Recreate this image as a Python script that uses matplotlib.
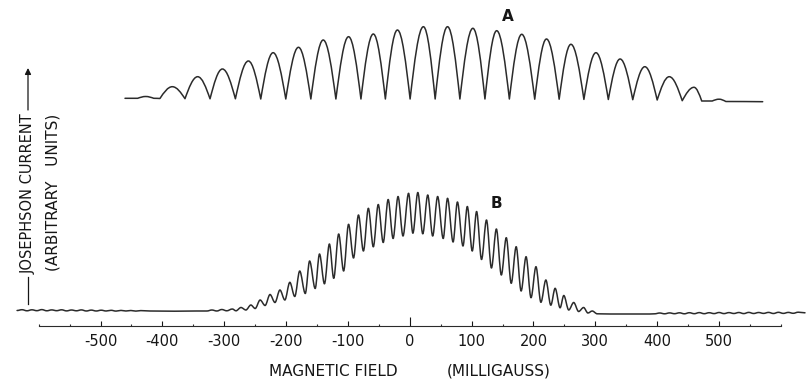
import matplotlib.pyplot as plt
from matplotlib.path import Path
from matplotlib.patches import PathPatch
from matplotlib.lines import Line2D

# Trace A: turning points (field in milligauss, current in arbitrary units)
a_field = [-460.5, -440, -427, -414, -404, -384, -363.5, -343, -323, -303, -282, -261,
           -241, -221, -200.5, -180, -160, -140, -119.5, -99, -79, -59, -39.5, -20,
           0.5, 22, 41, 61, 81, 102, 121.5, 140.5, 161, 181, 202, 221, 241.5, 260.5,
           281.5, 301, 321, 340, 360.5, 380, 400, 419.5, 440.5, 459.5, 472, 489, 500,
           511, 570.6]
a_current = [227.7, 227.7, 229.5, 227.7, 227.5, 239.3, 227.3, 249.3, 227.2, 257.0, 227.2,
             265.0, 227.0, 273.3, 227.0, 278.7, 227.0, 286.0, 227.0, 289.3, 227.0, 292.0,
             227.0, 296.0, 227.0, 299.3, 227.0, 299.3, 227.0, 297.7, 227.0, 295.3, 227.0,
             291.7, 226.8, 287.0, 226.8, 281.7, 226.6, 273.3, 226.5, 267.0, 226.3, 259.3,
             226.0, 249.3, 225.3, 238.7, 225.0, 225.0, 226.8, 224.5, 224.3]

# Trace B: turning points
b_field = [-635, -627, -619, -611, -603, -595, -587, -579, -571, -563, -555, -547, -539,
           -531, -523, -515, -507, -499, -491, -483, -475, -467, -459, -451, -443, -435,
           -420, -380, -345, -328, -320, -312, -304, -296, -287, -281, -273, -265, -257,
           -250, -242, -234, -226, -218, -210, -202, -194, -186, -178, -169, -162, -153,
           -146, -138, -130, -123, -115, -107, -99, -91, -83, -75, -67, -59, -51, -43,
           -35, -27, -19, -11, -2, 5, 13, 21, 29, 37, 45, 54, 61, 70, 77, 86, 93, 101,
           108, 116, 124, 132, 140, 148, 156, 164, 172, 180, 188, 196, 204, 212, 220,
           228, 235, 243, 249, 257, 265, 273, 281, 288, 295, 303, 324, 388, 396, 404,
           412, 420, 428, 436, 444, 452, 460, 468, 476, 484, 492, 500, 508, 516, 524,
           532, 540, 548, 556, 564, 572, 580, 588, 596, 604, 612, 620, 628, 639]
b_current = [15.5, 16.3, 15.2, 16.2, 15.3, 16.4, 15.2, 16.1, 15.3, 16.2, 15.1, 16.0, 15.2,
             16.1, 15.0, 15.9, 15.0, 15.8, 15.0, 15.7, 14.9, 15.6, 15.0, 15.5, 14.9, 15.4,
             15.0, 14.8, 15.0, 15.0, 16.0, 15.0, 16.5, 15.2, 17.0, 15.2, 18.5, 16.0, 21.0,
             17.5, 26.0, 20.5, 31.5, 23.5, 36.0, 26.0, 43.7, 29.5, 55.0, 32.5, 65.0, 37.5,
             72.0, 42.2, 82.0, 47.7, 92.0, 55.0, 101.7, 68.0, 111.0, 75.0, 117.7, 79.2,
             121.5, 83.5, 126.5, 87.5, 129.5, 90.0, 132.7, 92.8, 133.5, 92.2, 131.0, 90.0,
             129.5, 87.5, 127.7, 84.0, 124.0, 80.0, 119.5, 75.0, 114.5, 66.5, 106.0, 58.0,
             97.0, 51.0, 88.3, 42.7, 79.3, 35.0, 69.3, 28.3, 59.3, 23.7, 46.0, 20.8, 37.7,
             18.2, 30.5, 16.0, 23.5, 14.5, 18.5, 13.0, 15.0, 12.2, 12.0, 12.0, 12.2, 13.0,
             12.2, 13.1, 12.3, 13.2, 12.2, 13.3, 12.3, 13.4, 12.3, 13.3, 12.4, 13.5, 12.4,
             13.4, 12.5, 13.5, 12.4, 13.6, 12.5, 13.5, 12.6, 13.6, 12.5, 13.7, 12.6, 13.6,
             12.7, 13.8, 13.2]

tick_values = [-500, -400, -300, -200, -100, 0, 100, 200, 300, 400, 500]
tick_labels = ['-500', '-400', '-300', '-200', '-100', '0', '100', '200', '300', '400', '500']
minor_values = [-600, -550, -450, -350, -250, -150, -50, 50, 150, 250, 350, 450, 550, 600]

ink = '#161616'
pen = '#2b2b2b'


def trace_path(xs, ys, sharp_troughs):
    # smooth curve through the turning points, horizontal tangent at each peak
    verts = [(xs[0], ys[0])]
    codes = [Path.MOVETO]
    for x0, y0, x1, y1 in zip(xs[:-1], ys[:-1], xs[1:], ys[1:]):
        dx, dy = x1 - x0, y1 - y0
        if sharp_troughs and dy > 0:
            c1, c2 = (x0 + 0.326 * dx, y0 + 0.512 * dy), (x0 + 0.638 * dx, y1)
        elif sharp_troughs and dy < 0:
            c1, c2 = (x0 + 0.362 * dx, y0), (x1 - 0.326 * dx, y1 - 0.512 * dy)
        else:
            c1, c2 = (x0 + dx / 3, y0), (x1 - dx / 3, y1)
        verts += [c1, c2, (x1, y1)]
        codes += [Path.CURVE4] * 3
    return Path(verts, codes)


fig = plt.figure(figsize=(8.11, 3.81), dpi=100)
ax = fig.add_axes([0, 0, 1, 1])
ax.set_xlim(-662.6, 648.7)
ax.set_ylim(-55, 326)

ax.add_patch(PathPatch(trace_path(a_field, a_current, True), fill=False,
                       edgecolor=pen, lw=1.1, capstyle='round', joinstyle='round'))
ax.add_patch(PathPatch(trace_path(b_field, b_current, False), fill=False,
                       edgecolor=pen, lw=1.1, capstyle='round', joinstyle='round'))

ax.text(159, 305.3, 'A', ha='center', va='baseline', fontsize=11, fontweight='bold', color=ink)
ax.text(140.5, 117.7, 'B', ha='center', va='baseline', fontsize=11, fontweight='bold', color=ink)

# field axis drawn as the bottom spine at zero current
for side in ['top', 'left', 'right']:
    ax.spines[side].set_visible(False)
ax.spines['bottom'].set_position(('data', 0))
ax.spines['bottom'].set_bounds(-600, 600)
ax.spines['bottom'].set_linewidth(0.8)
ax.spines['bottom'].set_color(pen)
ax.set_xticks(tick_values, tick_labels)
ax.set_xticks(minor_values, minor=True)
ax.set_yticks([])
ax.tick_params(axis='x', which='major', direction='in', length=3.5, width=0.8,
               pad=5.5, labelsize=10.5, colors=ink)
ax.tick_params(axis='x', which='minor', direction='in', length=1.8, width=0.8, colors=pen)
for tick in ax.xaxis.get_major_ticks():
    if tick.get_loc() == 0:
        tick.tick1line.set_markersize(6.5)

W, H = 811, 381
fig.text(269 / W, 1 - 376 / H, 'MAGNETIC FIELD', fontsize=11, color=ink, va='baseline')
fig.text(447 / W, 1 - 376 / H, '(MILLIGAUSS)', fontsize=11, color=ink, va='baseline')

fig.text(28 / W, 1 - 194 / H, 'JOSEPHSON CURRENT', rotation=90, fontsize=10.5, color=ink,
         ha='center', va='center')
fig.text(52.5 / W, 1 - 192.5 / H, '(ARBITRARY   UNITS)', rotation=90, fontsize=11, color=ink,
         ha='center', va='center')
ax.annotate('', xy=(28 / W, 1 - 68 / H), xytext=(28 / W, 1 - 110 / H),
            xycoords='figure fraction', textcoords='figure fraction',
            arrowprops=dict(arrowstyle='-|>', lw=0.9, color=ink, mutation_scale=9,
                            shrinkA=0, shrinkB=0))
fig.add_artist(Line2D([28 / W, 28 / W], [1 - 277 / H, 1 - 304 / H], lw=0.9, color=ink,
                      transform=fig.transFigure))

fig.savefig('out.png', dpi=100, facecolor='white')
